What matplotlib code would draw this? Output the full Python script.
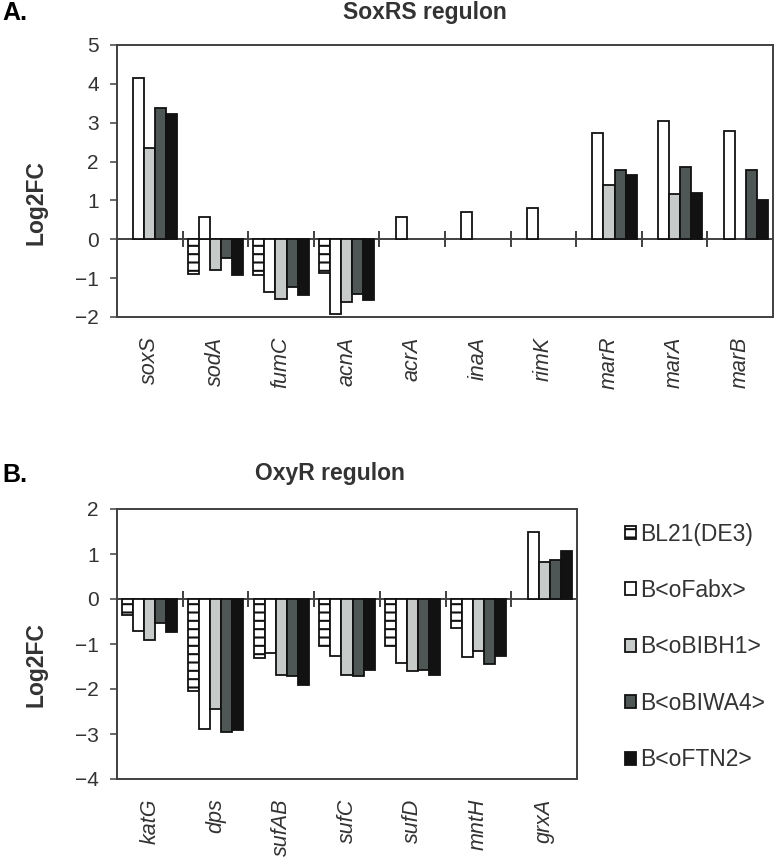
import numpy as np
import matplotlib
matplotlib.use("Agg")
import matplotlib.pyplot as plt

plt.rcParams['font.family'] = ['Liberation Sans', 'DejaVu Sans']
plt.rcParams['hatch.linewidth'] = 1.5
plt.rcParams['text.color'] = '#333333'

nan = np.nan

strains = ['BL21(DE3)', 'B<oFabx>', 'B<oBIBH1>', 'B<oBIWA4>', 'B<oFTN2>']

# SoxRS regulon
soxrs_genes = ['soxS', 'sodA', 'fumC', 'acnA', 'acrA', 'inaA', 'rimK', 'marR', 'marA', 'marB']
soxrs_bl21 = [nan, -0.90, -0.93, -0.87, nan, nan, nan, nan, nan, nan]
soxrs_fabx = [4.14, 0.57, -1.35, -1.91, 0.57, 0.69, 0.81, 2.74, 3.05, 2.79]
soxrs_bibh1 = [2.36, -0.78, -1.53, -1.62, nan, nan, nan, 1.39, 1.17, nan]
soxrs_biwa4 = [3.38, -0.49, -1.24, -1.42, nan, nan, nan, 1.78, 1.87, 1.79]
soxrs_ftn2 = [3.22, -0.93, -1.44, -1.56, nan, nan, nan, 1.65, 1.19, 1.01]

# OxyR regulon
oxyr_genes = ['katG', 'dps', 'sufAB', 'sufC', 'sufD', 'mntH', 'grxA']
oxyr_bl21 = [-0.35, -2.05, -1.32, -1.05, -1.04, -0.64, nan]
oxyr_fabx = [-0.72, -2.88, -1.19, -1.27, -1.43, -1.28, 1.49]
oxyr_bibh1 = [-0.90, -2.45, -1.69, -1.69, -1.59, -1.16, 0.83]
oxyr_biwa4 = [-0.53, -2.96, -1.70, -1.70, -1.57, -1.45, 0.86]
oxyr_ftn2 = [-0.74, -2.90, -1.90, -1.57, -1.68, -1.27, 1.06]

fills = ['white', 'white', '#c6cbc9', '#4e5755', '#121212']
hatches = ['--', None, None, None, None]
axis_c = '#404040'


def draw(ax, genes, series, ymin, ymax):
    x = np.arange(len(genes))
    w = 0.168
    for k, vals in enumerate(series):
        ax.bar(x + (k - 2) * w, vals, w, color=fills[k], edgecolor='#111111',
               linewidth=1.3, hatch=hatches[k], label=strains[k], zorder=2)
    ax.axhline(0, color=axis_c, lw=1.4, zorder=1)
    # tick marks between categories on the zero line
    bounds = x[:-1] + 0.5
    ax.plot(bounds, np.zeros(len(bounds)), ls='none', marker='|', ms=11,
            mew=1.4, color=axis_c, zorder=3)
    ax.set_xlim(-0.5, len(genes) - 0.5)
    ax.set_ylim(ymin, ymax)
    ax.set_yticks(range(ymin, ymax + 1))
    ax.set_xticks(x)
    ax.set_xticklabels(genes, rotation=90, style='italic', fontsize=15.5, color='#333333')
    ax.tick_params(axis='x', length=0, pad=14)
    ax.tick_params(axis='y', direction='out', length=5, width=1.1, color=axis_c,
                   labelsize=15, labelcolor='#333333', pad=8)
    for s in ax.spines.values():
        s.set_color(axis_c)
        s.set_linewidth(1.4)


fig = plt.figure(figsize=(7.76, 8.58), dpi=100)
W, H = 776, 858

axA = fig.add_axes([117 / W, 1 - 317 / H, 656 / W, 272 / H])
draw(axA, soxrs_genes, [soxrs_bl21, soxrs_fabx, soxrs_bibh1, soxrs_biwa4, soxrs_ftn2], -2, 5)

axB = fig.add_axes([117 / W, 1 - 779 / H, 460 / W, 270 / H])
draw(axB, oxyr_genes, [oxyr_bl21, oxyr_fabx, oxyr_bibh1, oxyr_biwa4, oxyr_ftn2], -4, 2)

fig.text(2 / W, 1 - 13 / H, 'A.', fontsize=18, weight='bold', color='black', va='center')
fig.text(2 / W, 1 - 475 / H, 'B.', fontsize=18, weight='bold', color='black', va='center')
fig.text(425 / W, 1 - 13 / H, 'SoxRS regulon', fontsize=16.5, weight='bold', ha='center', va='center')
fig.text(330 / W, 1 - 473 / H, 'OxyR regulon', fontsize=16.5, weight='bold', ha='center', va='center')
fig.text(36 / W, 1 - 203 / H, 'Log2FC', fontsize=16.5, weight='bold', rotation=90, ha='center', va='center')
fig.text(36 / W, 1 - 665 / H, 'Log2FC', fontsize=16.5, weight='bold', rotation=90, ha='center', va='center')

handles, labels = axB.get_legend_handles_labels()
fig.legend(handles, labels, loc='center left', bbox_to_anchor=(625 / W, 1 - 647 / H),
           frameon=False, fontsize=16.5, handlelength=0.5, handleheight=0.5,
           handletextpad=0.15, labelspacing=1.46, borderpad=0, borderaxespad=0,
           labelcolor='#333333')

fig.savefig('out.png', dpi=100)
